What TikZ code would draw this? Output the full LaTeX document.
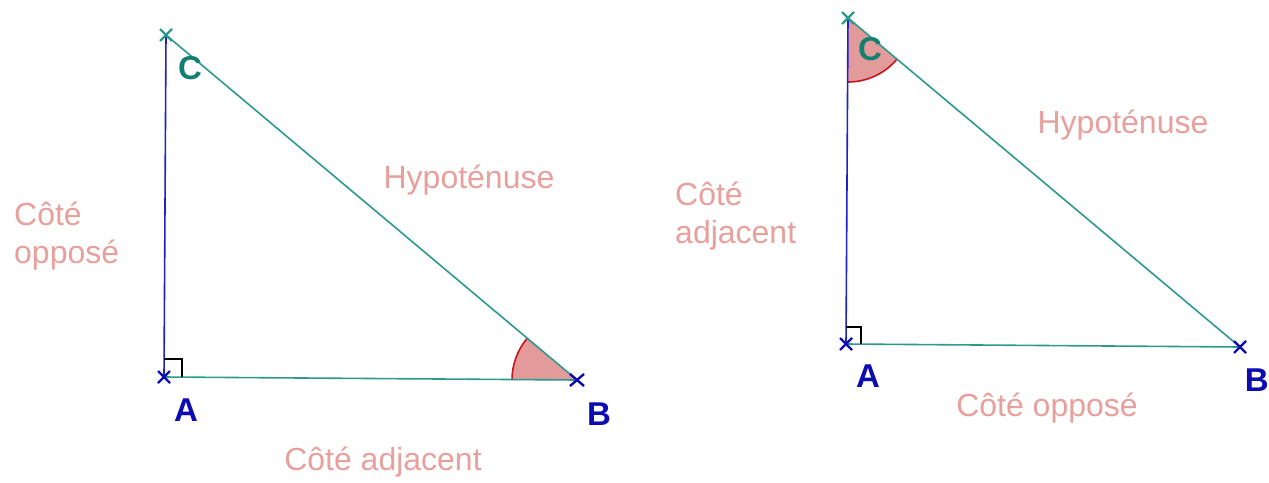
\documentclass[tikz,border=0pt]{standalone}
\usepackage{fontspec}
\setmainfont{Liberation Sans}
\begin{document}
\begin{tikzpicture}[x=1pt,y=-1pt,
  teal line/.style={draw=tealc,line width=1.6pt},
  blue line/.style={draw=bluec,line width=1.6pt},
  anglearc/.style={draw=redarc,line width=1.6pt},
  rightmark/.style={draw=black,line width=1.8pt},
  pinktext/.style={text=pinkt,font=\fontsize{32}{38}\selectfont,inner sep=0pt},
  vlabel/.style={font=\bfseries\fontsize{33}{38}\selectfont,inner sep=0pt},
  crossmark/.style={line width=2.4pt}]
\definecolor{tealc}{HTML}{2E9A8E}
\definecolor{bluec}{HTML}{2020C8}
\definecolor{pinkfill}{HTML}{E39A9A}
\definecolor{redarc}{HTML}{C8141E}
\definecolor{pinkt}{HTML}{E8A09C}
\definecolor{labblue}{HTML}{0C0CB0}
\definecolor{labteal}{HTML}{128070}
\useasboundingbox (0,0) rectangle (1269,482);
\fill[white] (0,0) rectangle (1269,482);
% ---------- left triangle ----------
\coordinate (A1) at (164,377);
\coordinate (B1) at (577,380);
\coordinate (C1) at (166,35);
\fill[pinkfill] (B1) -- ++(220:65) arc[start angle=220,end angle=180,radius=65] -- cycle;
\draw[anglearc] (B1) ++(220:65) arc[start angle=220,end angle=180,radius=65];
\draw[teal line] (A1) -- (B1);
\draw[teal line] (B1) -- (C1);
\draw[blue line] (A1) -- (C1);
\draw[rightmark] (164,359) -- (182,359) -- (182,377);
\draw[crossmark,draw=tealc] (C1) ++(-6,-6) -- ++(12,12) (C1) ++(-6,6) -- ++(12,-12);
\draw[crossmark,draw=labblue] (A1) ++(-6,-6) -- ++(12,12) (A1) ++(-6,6) -- ++(12,-12);
\draw[crossmark,draw=labblue] (B1) ++(-7,-6) -- ++(14,12) (B1) ++(-7,6) -- ++(14,-12);
\node[vlabel,text=labteal] (lC1) at (190,68) {C};
\node[vlabel,text=labblue] (lA1) at (186,410) {A};
\node[vlabel,text=labblue] (lB1) at (599,414) {B};
\node[pinktext] (hyp1) at (469,180) {Hypoténuse};
\node[pinktext,align=left,anchor=west] (opp1) at (14,236) {Côté\\opposé};
\node[pinktext] (adj1) at (383,462) {Côté adjacent};
% ---------- right triangle ----------
\coordinate (A2) at (846,344);
\coordinate (B2) at (1240,347);
\coordinate (C2) at (848,18);
\fill[pinkfill] (C2) -- ++(90:64) arc[start angle=90,end angle=40,radius=64] -- cycle;
\draw[anglearc] (C2) ++(90:64) arc[start angle=90,end angle=40,radius=64];
\draw[teal line] (A2) -- (B2);
\draw[teal line] (B2) -- (C2);
\draw[blue line] (A2) -- (C2);
\draw[rightmark] (846,327) -- (861,327) -- (861,344);
\draw[crossmark,draw=tealc] (C2) ++(-6,-6) -- ++(12,12) (C2) ++(-6,6) -- ++(12,-12);
\draw[crossmark,draw=labblue] (A2) ++(-6,-6) -- ++(12,12) (A2) ++(-6,6) -- ++(12,-12);
\draw[crossmark,draw=labblue] (B2) ++(-6,-6) -- ++(12,12) (B2) ++(-6,6) -- ++(12,-12);
\node[vlabel,text=labteal] (lC2) at (870,49) {C};
\node[vlabel,text=labblue] (lA2) at (868,376) {A};
\node[vlabel,text=labblue,anchor=east] (lB2) at (1269,380) {B};
\node[pinktext] (hyp2) at (1123,125) {Hypoténuse};
\node[pinktext,align=left,anchor=west] (adj2) at (675,216) {Côté\\adjacent};
\node[pinktext] (opp2) at (1047,408) {Côté opposé};
\end{tikzpicture}
\end{document}
